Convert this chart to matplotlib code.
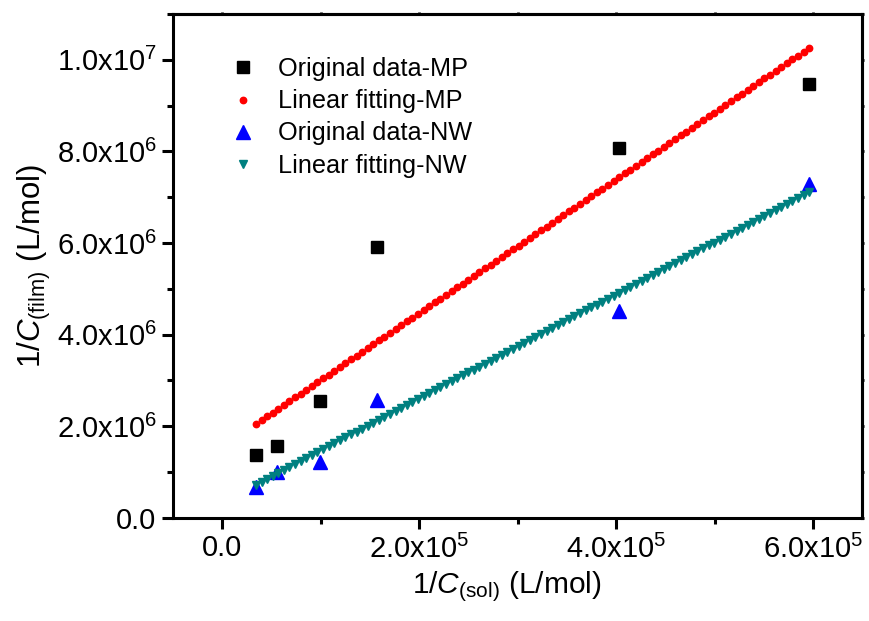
import numpy as np
import matplotlib
matplotlib.use("Agg")
import matplotlib.pyplot as plt
from matplotlib.ticker import MultipleLocator, FuncFormatter

plt.rcParams['font.family'] = ['Liberation Sans', 'DejaVu Sans']
plt.rcParams['mathtext.fontset'] = 'custom'
plt.rcParams['mathtext.rm'] = 'Liberation Sans'
plt.rcParams['mathtext.it'] = 'Liberation Sans:italic'
plt.rcParams['mathtext.bf'] = 'Liberation Sans:bold'

# ---- data ----
x_sol = [3.4e4, 5.5e4, 9.9e4, 1.57e5, 4.03e5, 5.96e5]          # 1/C(sol), L/mol
y_mp = [1.38e6, 1.56e6, 2.54e6, 5.91e6, 8.07e6, 9.47e6]          # 1/C(film) MP
y_nw = [0.67e6, 1.00e6, 1.22e6, 2.58e6, 4.52e6, 7.29e6]          # 1/C(film) NW
labels = ["Original data-MP", "Linear fitting-MP",
          "Original data-NW", "Linear fitting-NW"]

# linear fits of the original data (as shown by the fitted lines)
xs = np.array(x_sol)
k_mp, b_mp = np.polyfit(xs, np.array(y_mp), 1)
k_nw, b_nw = np.polyfit(xs, np.array(y_nw), 1)
n_fit_markers = 100
xf = np.linspace(xs.min(), xs.max(), n_fit_markers)

fig = plt.figure(figsize=(8.69, 6.21), dpi=100)
ax = fig.add_axes([0.1994, 0.1663, 0.7929, 0.8112])

ax.plot(x_sol, y_mp, ls='none', marker='s', ms=8, color='black', mec='black',
        label=labels[0], zorder=3)
ax.plot(xf, k_mp * xf + b_mp, ls='none', marker='o', ms=4.6, color='#ff0000',
        mec='#ff0000', label=labels[1], zorder=3)
ax.plot(x_sol, y_nw, ls='none', marker='^', ms=10.5, color='#0000ff', mec='#0000ff',
        label=labels[2], zorder=3)
ax.plot(xf, k_nw * xf + b_nw, ls='none', marker='v', ms=5.5, color='#008080',
        mec='#008080', label=labels[3], zorder=4)

ax.set_xlim(-5e4, 6.5e5)
ax.set_ylim(0, 1.1e7)

ax.xaxis.set_major_locator(MultipleLocator(2e5))
ax.xaxis.set_minor_locator(MultipleLocator(1e5))
ax.yaxis.set_major_locator(MultipleLocator(2e6))
ax.yaxis.set_minor_locator(MultipleLocator(1e6))


def sci_fmt(v, pos):
    if abs(v) < 1e-9:
        return '0.0'
    e = int(np.floor(np.log10(abs(v)) + 1e-9))
    m = v / 10 ** e
    return r'$\mathregular{%.1fx10^{%d}}$' % (m, e)


ax.xaxis.set_major_formatter(FuncFormatter(sci_fmt))
ax.yaxis.set_major_formatter(FuncFormatter(sci_fmt))

for s in ax.spines.values():
    s.set_linewidth(2.2)

ax.tick_params(which='major', direction='out', length=8, width=2.2,
               labelsize=21, pad=4)
ax.tick_params(which='minor', direction='out', length=4.5, width=2.2)
ax.tick_params(which='both', top=False, right=False)

# small marks on the top and right axes
secx = ax.secondary_xaxis('top')
secx.xaxis.set_major_locator(MultipleLocator(1e5))
secx.tick_params(length=1.5, width=2.0, labeltop=False)
secx.spines['top'].set_linewidth(2.2)
secy = ax.secondary_yaxis('right')
secy.yaxis.set_major_locator(MultipleLocator(1e6))
secy.tick_params(length=1.5, width=2.0, labelright=False)
secy.spines['right'].set_linewidth(2.2)

ax.set_xlabel(r'1/$C_{\mathregular{(sol)}}$ (L/mol)', fontsize=21.5)
ax.set_ylabel(r'1/$C_{\mathregular{(film)}}$ (L/mol)', fontsize=22.5)
ax.xaxis.set_label_coords(0.484, -0.102)
ax.yaxis.set_label_coords(-0.175, 0.5)

leg = ax.legend(loc='upper left', bbox_to_anchor=(0.0844, 0.914), frameon=False,
                fontsize=18.2, handlelength=0.9, handletextpad=0.93,
                labelspacing=0.32, borderpad=0, borderaxespad=0, numpoints=1)

fig.savefig('out.png', dpi=100)
